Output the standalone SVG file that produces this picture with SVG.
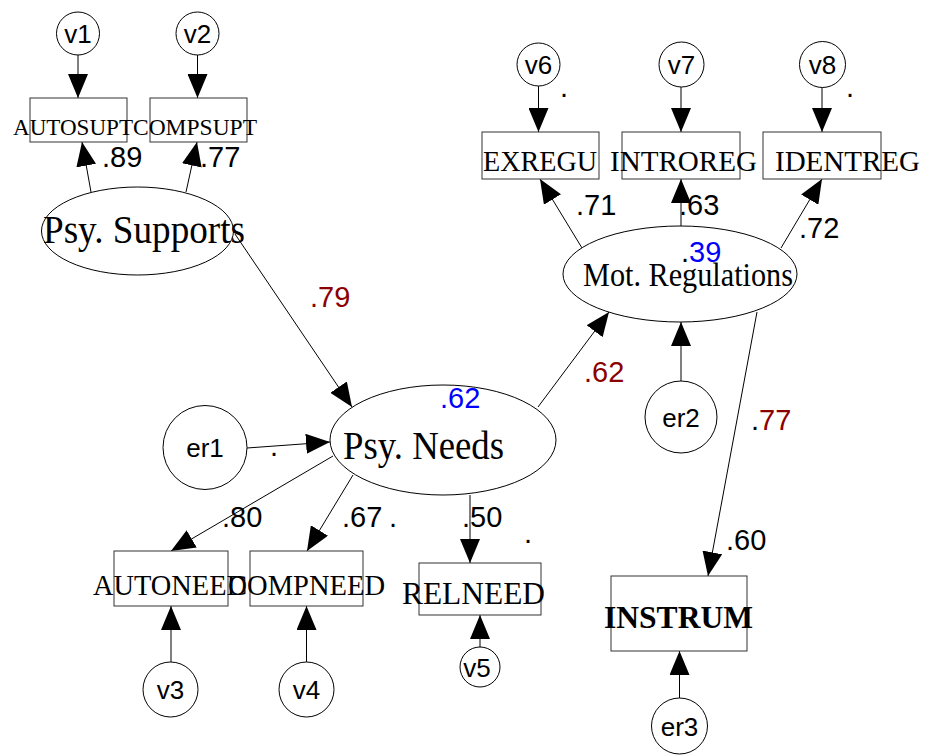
<svg xmlns="http://www.w3.org/2000/svg" width="927" height="756" viewBox="0 0 927 756">
<defs>
<marker id="ah" markerUnits="userSpaceOnUse" markerWidth="24" markerHeight="20" refX="24" refY="10" orient="auto" viewBox="0 0 24 20">
<path d="M0,0 L24,10 L0,20 Z" fill="#000"/>
</marker>
</defs>
<style>
.shape{fill:#fff;stroke:#000;stroke-width:1}
.box{fill:#fff;stroke:#333;stroke-width:1}
.lbl{font-family:"Liberation Serif","Times New Roman",serif;fill:#000}
.sans{font-family:"Liberation Sans",Arial,sans-serif;fill:#000}
.num{font-family:"Liberation Sans",Arial,sans-serif;font-size:29px;fill:#000}
.red{fill:#8b0000}
.blue{fill:#0000ff}
.conn line{stroke:#000;stroke-width:1;marker-end:url(#ah)}
</style>
<rect width="927" height="756" fill="#fff"/>

<g id="connectors" class="conn">
<line x1="78" y1="55" x2="78" y2="98"/>
<line x1="197.5" y1="55" x2="197.5" y2="98"/>
<line x1="91" y1="192" x2="82" y2="142"/>
<line x1="186" y1="192" x2="197" y2="142"/>
<line x1="235" y1="234" x2="352" y2="407"/>
<line x1="247" y1="448" x2="330" y2="442"/>
<line x1="333" y1="456" x2="171" y2="551"/>
<line x1="353" y1="475" x2="307" y2="551"/>
<line x1="470" y1="495" x2="470" y2="563"/>
<line x1="171" y1="662" x2="171" y2="606"/>
<line x1="306.5" y1="662" x2="306.5" y2="606"/>
<line x1="480" y1="648" x2="480" y2="615"/>
<line x1="538.5" y1="86" x2="538.5" y2="132"/>
<line x1="681" y1="87" x2="681" y2="132"/>
<line x1="822" y1="87" x2="822" y2="132"/>
<line x1="582" y1="248" x2="540" y2="179"/>
<line x1="681" y1="226" x2="681" y2="179"/>
<line x1="781" y1="248" x2="822" y2="179"/>
<line x1="538" y1="407" x2="609" y2="312"/>
<line x1="681" y1="382" x2="681" y2="322"/>
<line x1="757" y1="312" x2="708" y2="576"/>
<line x1="679.5" y1="698" x2="679.5" y2="651"/>
</g>

<g id="v1"><circle class="shape" cx="78" cy="33.5" r="21.5"/><text class="sans" x="78" y="43" font-size="26" text-anchor="middle">v1</text></g>
<g id="v2"><circle class="shape" cx="197.5" cy="33.5" r="21.5"/><text class="sans" x="197.5" y="43" font-size="26" text-anchor="middle">v2</text></g>
<g id="AUTOSUPT"><rect class="box" x="30" y="98" width="97" height="44"/><text class="lbl" x="13" y="135" font-size="23" textLength="120" lengthAdjust="spacingAndGlyphs">AUTOSUPT</text></g>
<g id="COMPSUPT"><rect class="box" x="150" y="98" width="97" height="44"/><text class="lbl" x="133" y="135" font-size="23" textLength="124" lengthAdjust="spacingAndGlyphs">COMPSUPT</text></g>
<g id="PsySupports"><ellipse class="shape" cx="137.5" cy="231" rx="96" ry="44"/><text class="lbl" x="43" y="243" font-size="40" textLength="202" lengthAdjust="spacingAndGlyphs">Psy. Supports</text></g>

<g id="er1"><circle class="shape" cx="205" cy="447.5" r="42"/><text class="sans" x="205" y="457" font-size="26" text-anchor="middle">er1</text></g>
<g id="PsyNeeds"><ellipse class="shape" cx="443" cy="440" rx="113" ry="55"/><text class="lbl" x="343" y="459" font-size="39" textLength="161" lengthAdjust="spacingAndGlyphs">Psy. Needs</text></g>

<g id="AUTONEED"><rect class="box" x="114" y="551" width="114" height="55"/><text class="lbl" x="93" y="595" font-size="30" textLength="154" lengthAdjust="spacingAndGlyphs">AUTONEED</text></g>
<g id="COMPNEED"><rect class="box" x="250" y="551" width="113" height="55"/><text class="lbl" x="228" y="595" font-size="30" textLength="157" lengthAdjust="spacingAndGlyphs">COMPNEED</text></g>
<g id="RELNEED"><rect class="box" x="419" y="563" width="122" height="52"/><text class="lbl" x="402" y="604" font-size="32" textLength="143" lengthAdjust="spacingAndGlyphs">RELNEED</text></g>
<g id="v3"><circle class="shape" cx="170.5" cy="689.5" r="27.5"/><text class="sans" x="170.5" y="699" font-size="26" text-anchor="middle">v3</text></g>
<g id="v4"><circle class="shape" cx="306.5" cy="689.5" r="27.5"/><text class="sans" x="306.5" y="699" font-size="26" text-anchor="middle">v4</text></g>
<g id="v5"><circle class="shape" cx="480" cy="667" r="20"/><text class="sans" x="477" y="677" font-size="26" text-anchor="middle">v5</text></g>

<g id="v6"><circle class="shape" cx="538.5" cy="64.5" r="21.5"/><text class="sans" x="538.5" y="74" font-size="26" text-anchor="middle">v6</text></g>
<g id="v7"><circle class="shape" cx="681.5" cy="64.5" r="22.5"/><text class="sans" x="681.5" y="74" font-size="26" text-anchor="middle">v7</text></g>
<g id="v8"><circle class="shape" cx="822.5" cy="64.5" r="23"/><text class="sans" x="822.5" y="74" font-size="26" text-anchor="middle">v8</text></g>
<g id="EXREGU"><rect class="box" x="482" y="132" width="117" height="47"/><text class="lbl" x="483" y="171" font-size="30" textLength="114" lengthAdjust="spacingAndGlyphs">EXREGU</text></g>
<g id="INTROREG"><rect class="box" x="622" y="132" width="118" height="47"/><text class="lbl" x="610" y="171" font-size="30" textLength="147" lengthAdjust="spacingAndGlyphs">INTROREG</text></g>
<g id="IDENTREG"><rect class="box" x="763" y="132" width="118" height="47"/><text class="lbl" x="775" y="171" font-size="30" textLength="145" lengthAdjust="spacingAndGlyphs">IDENTREG</text></g>
<g id="MotRegulations"><ellipse class="shape" cx="680" cy="274" rx="117" ry="48"/><text class="lbl" x="583" y="286" font-size="33" textLength="210" lengthAdjust="spacingAndGlyphs">Mot. Regulations</text></g>
<g id="er2"><circle class="shape" cx="681" cy="417" r="36"/><text class="sans" x="681" y="427" font-size="26" text-anchor="middle">er2</text></g>
<g id="INSTRUM"><rect class="box" x="611" y="576" width="136" height="75"/><text class="lbl" x="604" y="628" font-size="31" font-weight="bold" textLength="149" lengthAdjust="spacingAndGlyphs">INSTRUM</text></g>
<g id="er3"><circle class="shape" cx="679.5" cy="726" r="28"/><text class="sans" x="679.5" y="736" font-size="26" text-anchor="middle">er3</text></g>

<g id="labels">
<text class="num" x="102" y="167">.89</text>
<text class="num" x="200" y="167">.77</text>
<text class="num red" x="310" y="307">.79</text>
<text class="num blue" x="440" y="408">.62</text>
<text class="num" x="270" y="456">.</text>
<text class="num" x="222" y="527">.80</text>
<text class="num" x="342" y="527">.67</text>
<text class="num" x="389" y="527">.</text>
<text class="num" x="462" y="527">.50</text>
<text class="num" x="524" y="543">.</text>
<text class="num" x="560" y="97">.</text>
<text class="num" x="846" y="97">.</text>
<text class="num" x="576" y="215">.71</text>
<text class="num" x="679" y="215">.63</text>
<text class="num" x="799" y="238">.72</text>
<text class="num" x="681" y="262">.<tspan class="blue">39</tspan></text>
<text class="num red" x="584" y="382">.62</text>
<text class="num" x="751" y="430">.<tspan class="red">77</tspan></text>
<text class="num" x="726" y="550">.60</text>
</g>
</svg>
